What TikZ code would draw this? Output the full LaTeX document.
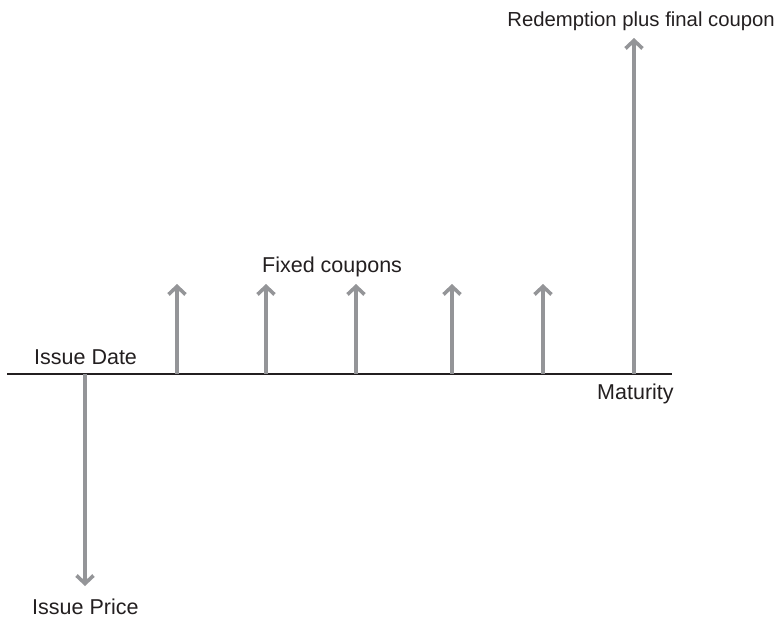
\documentclass[tikz,border=0pt]{standalone}
\usepackage{fontspec}
\setmainfont{Liberation Sans}
\usetikzlibrary{arrows.meta}
\definecolor{flowgray}{RGB}{148,149,152}
\definecolor{axisdark}{RGB}{35,31,32}
\begin{document}
\begin{tikzpicture}[x=1pt,y=-1pt,
  label/.style={inner sep=0pt,font=\fontsize{21.5}{25}\selectfont,text=axisdark},
  flow/.style={draw=flowgray,line width=3.6pt,
    -{Straight Barb[length=8pt,width=17pt,line width=3.6pt]}},
  timeline/.style={draw=axisdark,line width=2pt}]
\useasboundingbox (0,0) rectangle (779,621);

% time axis
\coordinate (axL) at (7,373.5);
\coordinate (axR) at (672,373.5);
\draw[timeline] (axL) -- (axR);

% cash flow base points on the axis and their tips
\coordinate (b0) at (85,373.5);  \coordinate (t0) at (85,586);
\coordinate (b1) at (177,373.5); \coordinate (t1) at (177,284);
\coordinate (b2) at (266,373.5); \coordinate (t2) at (266,284);
\coordinate (b3) at (356,373.5); \coordinate (t3) at (356,284);
\coordinate (b4) at (452,373.5); \coordinate (t4) at (452,284);
\coordinate (b5) at (543,373.5); \coordinate (t5) at (543,284);
\coordinate (b6) at (634,373.5); \coordinate (t6) at (634,38);

\draw[flow] (b0) -- (t0);
\foreach \i in {1,...,6} \draw[flow] (b\i) -- (t\i);

% labels
\node[label,anchor=base west] (issuedate) at (34,364) {Issue Date};
\node[label,anchor=base west] (issueprice) at (32,614) {Issue Price};
\node[label,anchor=base west] (fixed) at (262,272) {Fixed coupons};
\node[label,anchor=base west] (maturity) at (597,399) {Maturity};
\node[label,anchor=base east,font=\fontsize{20.3}{24}\selectfont] (redemption) at (775,26) {Redemption plus final coupon};
\end{tikzpicture}
\end{document}
